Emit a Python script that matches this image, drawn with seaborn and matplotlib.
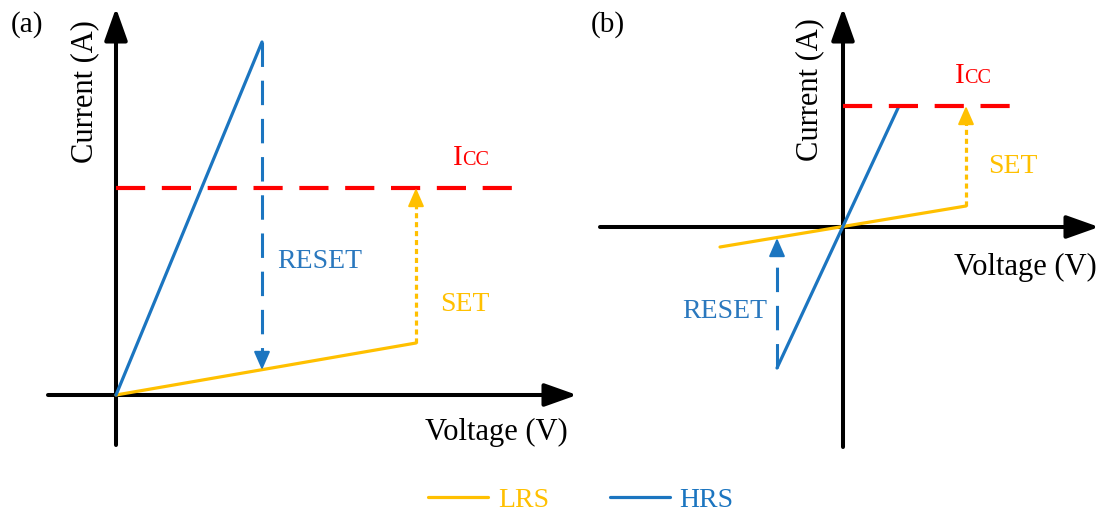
import matplotlib
matplotlib.use("Agg")
import matplotlib.pyplot as plt
import numpy as np
import pandas as pd
import seaborn as sns

sns.set_theme(style="white")
plt.rcParams['font.family'] = ['Liberation Serif', 'DejaVu Serif']
plt.rcParams['text.color'] = 'black'

# ---------------- data (schematic units: V, A) ----------------
series_names = ["LRS", "HRS"]

# panel (a)
a_lrs_v = [0.0, 3.00]
a_lrs_i = [0.0, 0.52]
a_hrs_v = [0.0, 1.46]
a_hrs_i = [0.0, 3.53]
a_icc_v = [0.0, 3.97]
a_icc_i = [2.07, 2.07]
a_reset_v = [1.46, 1.46]
a_reset_i = [3.53, 0.25]
a_set_v = [3.00, 3.00]
a_set_i = [0.52, 2.07]
a_xaxis_v = [-0.68, 4.61]
a_yaxis_i = [-0.50, 3.87]

# panel (b)
b_lrs_v = [-1.23, 1.23]
b_lrs_i = [-0.20, 0.21]
b_hrs_v = [-0.66, 0.56]
b_hrs_i = [-1.41, 1.21]
b_icc_v = [0.0, 1.67]
b_icc_i = [1.21, 1.21]
b_reset_v = [-0.66, -0.66]
b_reset_i = [-1.41, -0.11]
b_set_v = [1.23, 1.23]
b_set_i = [0.21, 1.21]
b_xaxis_v = [-2.43, 2.56]
b_yaxis_i = [-2.20, 2.19]

# ---------------- style ----------------
BLUE = "#1B75C0"
BLUE_TXT = "#2A78BE"
YELLOW = "#FFC000"
RED = "#FF0000"

W, H = 1101, 514
fig = plt.figure(figsize=(W / 100, H / 100), dpi=100)


def make_axes(px0, px1, ox, oy):
    ax = fig.add_axes([px0 / W, 0, (px1 - px0) / W, 1])
    ax.set_xlim((px0 - ox) / 100, (px1 - ox) / 100)
    ax.set_ylim((oy - H) / 100, oy / 100)
    ax.set_axis_off()
    return ax


ax_a = make_axes(0, 590, 116, 395)
ax_b = make_axes(590, 1101, 843, 227)


def axis_arrows(ax, xv, yi):
    ap = dict(arrowstyle="-|>,head_length=0.9,head_width=0.32", lw=2.9,
              color="black", mutation_scale=22, shrinkA=0, shrinkB=0)
    ax.annotate("", xy=(xv[1], 0), xytext=(xv[0], 0), arrowprops=ap, zorder=1)
    ax.annotate("", xy=(0, yi[1]), xytext=(0, yi[0]), arrowprops=ap, zorder=1)


def head(ax, x, y0, y1, color):
    # small solid arrowhead at (x, y1), pointing from y0 direction
    d = 0.12 if y1 > y0 else -0.12
    ax.annotate("", xy=(x, y1), xytext=(x, y1 - d),
                arrowprops=dict(arrowstyle="-|>,head_length=0.8,head_width=0.35",
                                lw=1.5, color=color, mutation_scale=14,
                                shrinkA=0, shrinkB=0), zorder=5)


def draw_panel(ax, lrs_v, lrs_i, hrs_v, hrs_i, icc_v, icc_i,
               reset_v, reset_i, set_v, set_i, xv, yi):
    axis_arrows(ax, xv, yi)
    sns.lineplot(x=lrs_v, y=lrs_i, ax=ax, color=YELLOW, lw=2.3, sort=False,
                 estimator=None, label=series_names[0], zorder=3)
    sns.lineplot(x=hrs_v, y=hrs_i, ax=ax, color=BLUE, lw=2.3, sort=False,
                 estimator=None, label=series_names[1], zorder=3)
    ax.plot(icc_v, icc_i, color=RED, lw=3.0, linestyle=(0, (7, 4)), zorder=4,
            solid_capstyle="butt", dash_capstyle="butt")
    # RESET dashed arrow
    d = -0.08 if reset_i[1] < reset_i[0] else 0.08
    ax.plot(reset_v, [reset_i[0], reset_i[1] - d], color=BLUE, lw=2.2,
            linestyle=(0, (8, 4.5)), zorder=4, dash_capstyle="butt")
    head(ax, reset_v[1], reset_i[0], reset_i[1], BLUE)
    # SET dotted arrow
    ax.plot(set_v, [set_i[0], set_i[1] - 0.08], color=YELLOW, lw=2.3,
            linestyle=(0, (1.6, 1.2)), zorder=4, dash_capstyle="butt")
    head(ax, set_v[1], set_i[0], set_i[1], YELLOW)
    if ax.get_legend() is not None:
        ax.get_legend().remove()


draw_panel(ax_a, a_lrs_v, a_lrs_i, a_hrs_v, a_hrs_i, a_icc_v, a_icc_i,
           a_reset_v, a_reset_i, a_set_v, a_set_i, a_xaxis_v, a_yaxis_i)
draw_panel(ax_b, b_lrs_v, b_lrs_i, b_hrs_v, b_hrs_i, b_icc_v, b_icc_i,
           b_reset_v, b_reset_i, b_set_v, b_set_i, b_xaxis_v, b_yaxis_i)


def icc_label(ax, x, y):
    ax.text(x, y, "I", color=RED, fontsize=21, ha="left", va="baseline")
    ax.annotate("CC", xy=(x, y), xytext=(6.8, 0), textcoords="offset points",
                color=RED, fontsize=14.5, ha="left", va="baseline")


LBL = 22
# panel (a) texts
ax_a.text(-0.89, 3.70, "(a)", fontsize=21, ha="center", va="center", color="black")
ax_a.text(-0.31, 3.03, "Current (A)", fontsize=LBL, rotation=90,
          ha="center", va="center", color="black")
ax_a.text(4.52, -0.37, "Voltage (V)", fontsize=LBL, ha="right", va="center", color="black")
icc_label(ax_a, 3.37, 2.30)
ax_a.text(1.61, 1.27, "RESET", color=BLUE_TXT, fontsize=20, ha="left", va="baseline")
ax_a.text(3.24, 0.84, "SET", color=YELLOW, fontsize=20, ha="left", va="baseline")

# panel (b) texts
ax_b.text(-2.35, 2.02, "(b)", fontsize=21, ha="center", va="center", color="black")
ax_b.text(-0.33, 1.37, "Current (A)", fontsize=LBL, rotation=90,
          ha="center", va="center", color="black")
ax_b.text(2.54, -0.40, "Voltage (V)", fontsize=LBL, ha="right", va="center", color="black")
icc_label(ax_b, 1.12, 1.44)
ax_b.text(1.45, 0.54, "SET", color=YELLOW, fontsize=20, ha="left", va="baseline")
ax_b.text(-0.76, -0.91, "RESET", color=BLUE_TXT, fontsize=20, ha="right", va="baseline")

# legend
handles, labels = ax_a.get_legend_handles_labels()
fig.legend(handles[:2], labels[:2], loc="center", bbox_to_anchor=(581 / W, 14 / H),
           ncol=2, frameon=False, fontsize=20, handlelength=2.15,
           handletextpad=0.35, columnspacing=2.2, labelcolor="linecolor")

fig.savefig("out.png", dpi=100, facecolor="white")
